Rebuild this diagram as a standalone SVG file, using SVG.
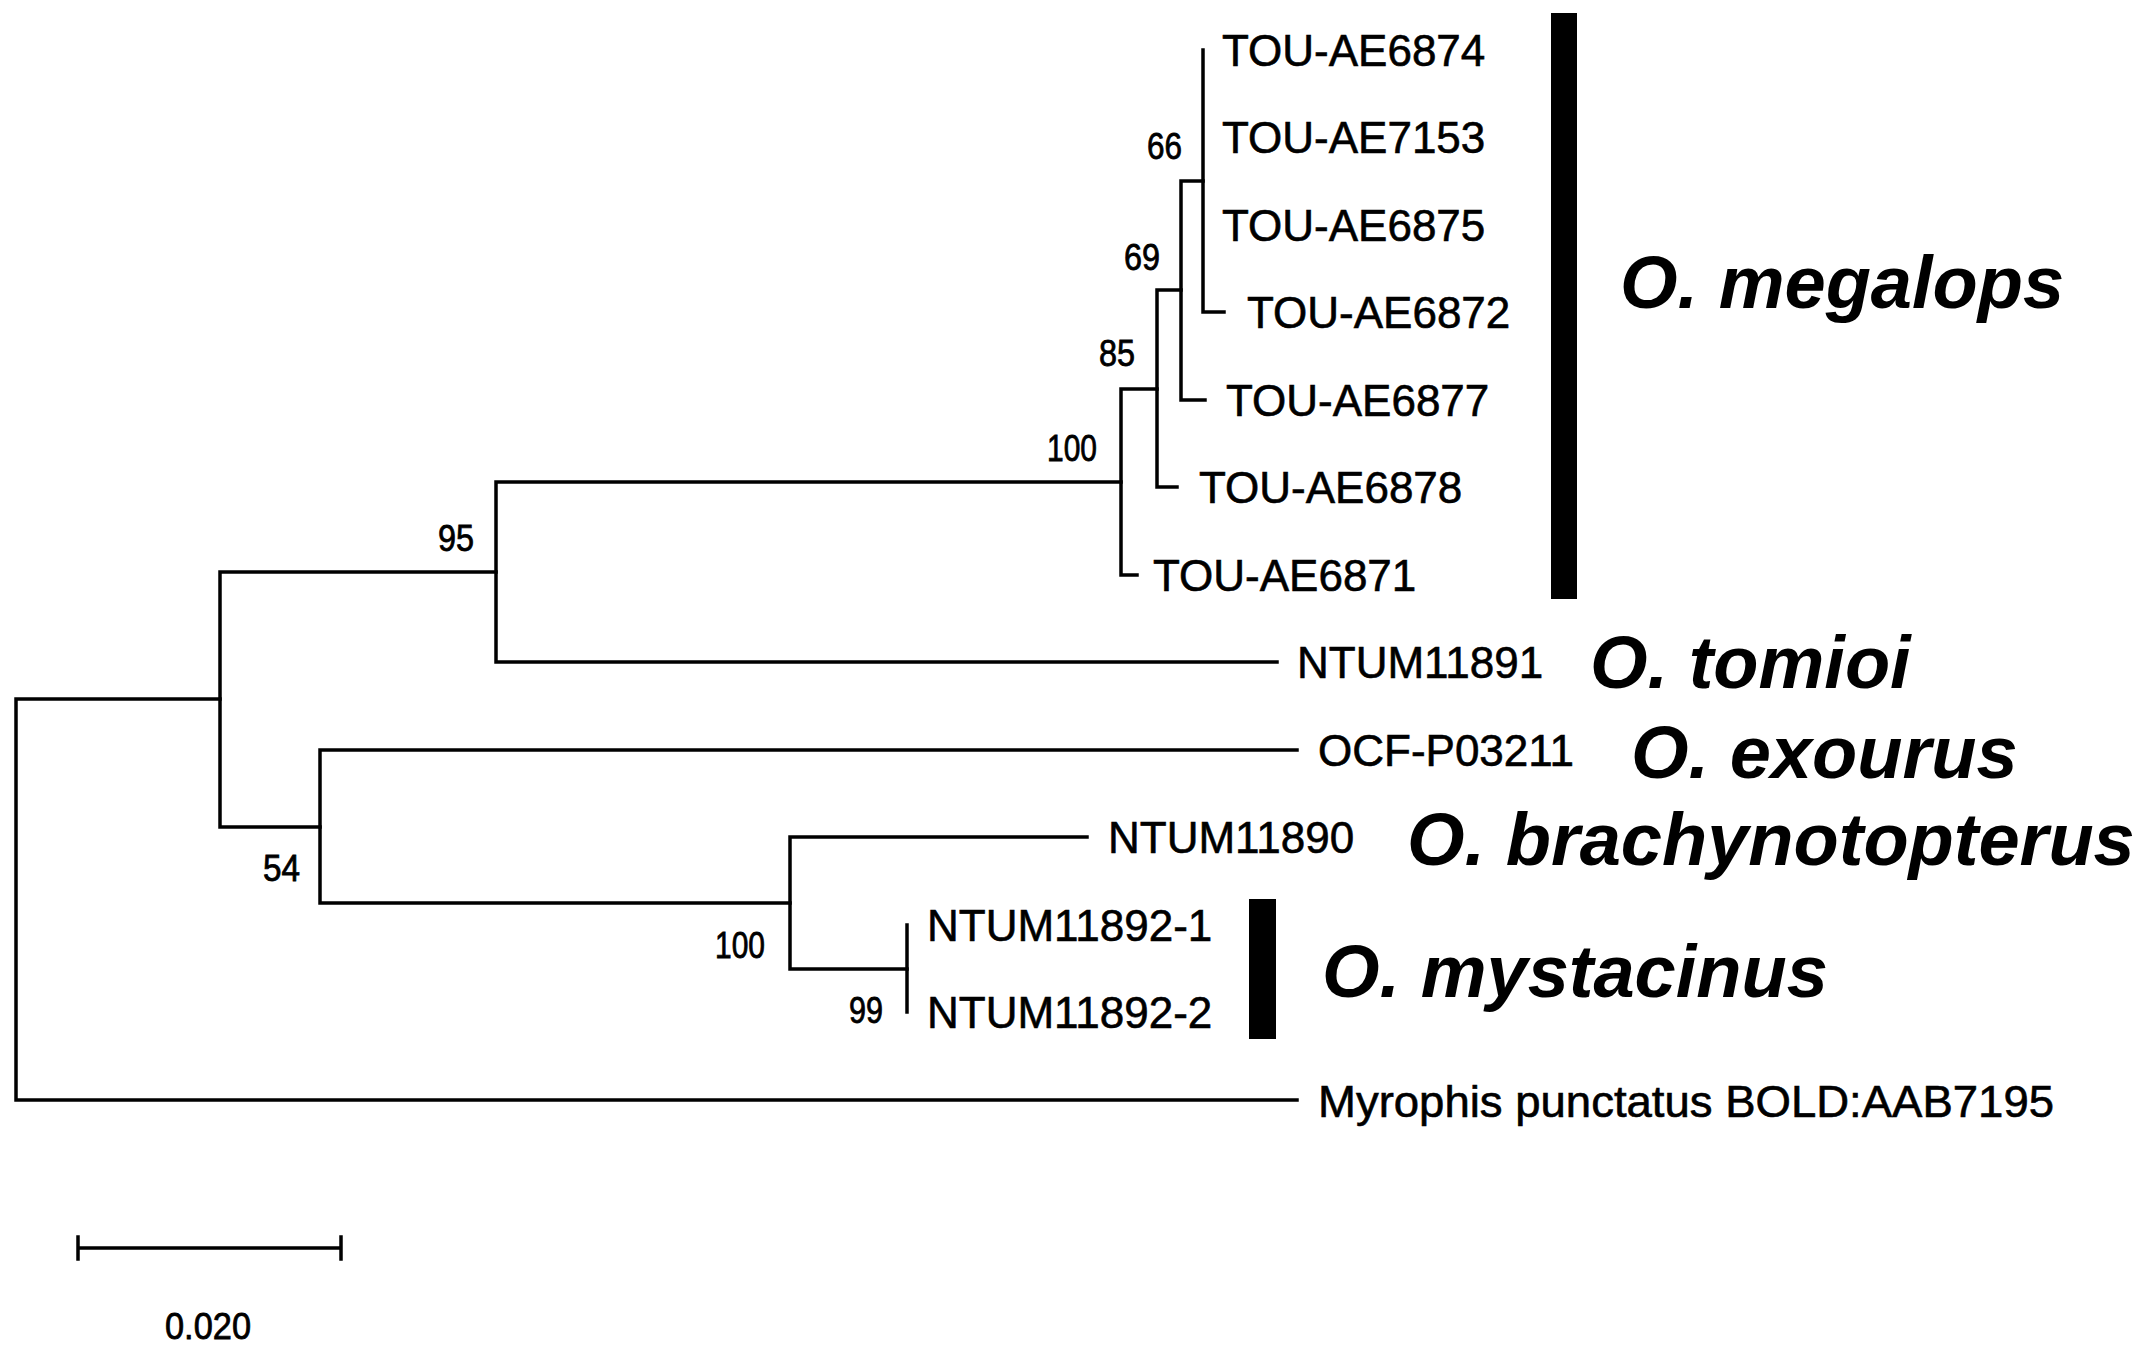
<svg xmlns="http://www.w3.org/2000/svg" width="2153" height="1351" viewBox="0 0 2153 1351">
<style>
.br{fill:none;stroke:#000;stroke-width:3.5;stroke-linecap:square}
.tip{font-family:"Liberation Sans",Arial,sans-serif;font-size:44px;fill:#000;stroke:#000;stroke-width:0.6}
.bs{font-family:"Liberation Sans",Arial,sans-serif;font-size:37px;fill:#000;stroke:#000;stroke-width:0.8;text-anchor:end}
.sp{font-family:"Liberation Sans",Arial,sans-serif;font-size:74px;font-weight:bold;font-style:italic;fill:#000}
.bar{fill:#000}
</style>
<rect width="2153" height="1351" fill="#fff"/>
<g id="connectors">
<path class="br" d="M16,699 V1100 M16,699 H220 M16,1100 H1297"/>
<path class="br" d="M220,572 V827 M220,572 H496 M220,827 H320"/>
<path class="br" d="M496,482 V662 M496,482 H1121 M496,662 H1277"/>
<path class="br" d="M1121,389 V575 M1121,389 H1157 M1121,575 H1137"/>
<path class="br" d="M1157,290 V487 M1157,290 H1181 M1157,487 H1177"/>
<path class="br" d="M1181,181 V400 M1181,181 H1203 M1181,400 H1205"/>
<path class="br" d="M1203,50 V312 M1203,312 H1224"/>
<path class="br" d="M320,750 V903 M320,750 H1297 M320,903 H790"/>
<path class="br" d="M790,837 V969 M790,837 H1087 M790,969 H907"/>
<path class="br" d="M907,925 V1012"/>
</g>
<g id="bootstrap">
<text class="bs" x="1182" y="159" textLength="35" lengthAdjust="spacingAndGlyphs">66</text>
<text class="bs" x="1160" y="270" textLength="36" lengthAdjust="spacingAndGlyphs">69</text>
<text class="bs" x="1135" y="366" textLength="36" lengthAdjust="spacingAndGlyphs">85</text>
<text class="bs" x="1097" y="461" textLength="50" lengthAdjust="spacingAndGlyphs">100</text>
<text class="bs" x="474" y="551" textLength="36" lengthAdjust="spacingAndGlyphs">95</text>
<text class="bs" x="300" y="881" textLength="37" lengthAdjust="spacingAndGlyphs">54</text>
<text class="bs" x="765" y="958" textLength="50" lengthAdjust="spacingAndGlyphs">100</text>
<text class="bs" x="883" y="1023" textLength="34" lengthAdjust="spacingAndGlyphs">99</text>
</g>
<g id="tip-TOU-AE6874"><text class="tip" x="1222" y="66">TOU-AE6874</text></g>
<g id="tip-TOU-AE7153"><text class="tip" x="1222" y="153">TOU-AE7153</text></g>
<g id="tip-TOU-AE6875"><text class="tip" x="1222" y="241">TOU-AE6875</text></g>
<g id="tip-TOU-AE6872"><text class="tip" x="1247" y="328">TOU-AE6872</text></g>
<g id="tip-TOU-AE6877"><text class="tip" x="1226" y="416">TOU-AE6877</text></g>
<g id="tip-TOU-AE6878"><text class="tip" x="1199" y="503">TOU-AE6878</text></g>
<g id="tip-TOU-AE6871"><text class="tip" x="1153" y="591">TOU-AE6871</text></g>
<g id="tip-NTUM11891"><text class="tip" x="1297" y="678">NTUM11891</text></g>
<g id="tip-OCF-P03211"><text class="tip" x="1318" y="766">OCF-P03211</text></g>
<g id="tip-NTUM11890"><text class="tip" x="1108" y="853">NTUM11890</text></g>
<g id="tip-NTUM11892-1"><text class="tip" x="927" y="941">NTUM11892-1</text></g>
<g id="tip-NTUM11892-2"><text class="tip" x="927" y="1028">NTUM11892-2</text></g>
<g id="tip-Myrophis"><text class="tip" x="1318" y="1117" textLength="736" lengthAdjust="spacingAndGlyphs">Myrophis punctatus BOLD:AAB7195</text></g>
<g id="clade-megalops">
<rect class="bar" x="1551" y="13" width="26" height="586"/>
<text class="sp" x="1620" y="308">O. megalops</text>
</g>
<g id="clade-tomioi"><text class="sp" x="1590" y="688">O. tomioi</text></g>
<g id="clade-exourus"><text class="sp" x="1631" y="778">O. exourus</text></g>
<g id="clade-brachynotopterus"><text class="sp" x="1407" y="865">O. brachynotopterus</text></g>
<g id="clade-mystacinus">
<rect class="bar" x="1249" y="899" width="27" height="140"/>
<text class="sp" x="1322" y="997">O. mystacinus</text>
</g>
<g id="scale-bar">
<path class="br" d="M78,1248 H341 M78,1237 V1259 M341,1237 V1259"/>
<text class="bs" x="165" y="1339" textLength="86" lengthAdjust="spacingAndGlyphs" style="text-anchor:start">0.020</text>
</g>
</svg>
